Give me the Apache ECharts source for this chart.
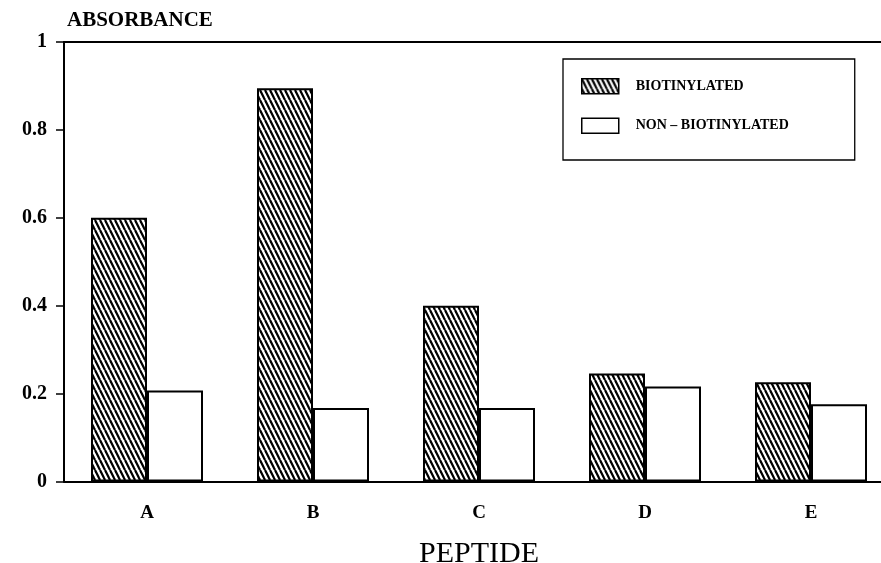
<!DOCTYPE html>
<html>
<head>
<meta charset="utf-8">
<script src="https://cdn.jsdelivr.net/npm/echarts@6/dist/echarts.min.js"></script>
<style>html,body{margin:0;padding:0;background:#fff}#c{width:881px;height:563px}</style>
</head>
<body>
<div id="c"></div>
<script>
const categories = ['A', 'B', 'C', 'D', 'E'];
const biotinylated = [0.60, 0.895, 0.40, 0.246, 0.226];
const nonBiotinylated = [0.207, 0.167, 0.167, 0.216, 0.176];
const yTicks = [0, 0.2, 0.4, 0.6, 0.8, 1];
const seriesNames = ['BIOTINYLATED', 'NON – BIOTINYLATED'];

function hatch() {
  const c = document.createElement('canvas');
  c.width = 5; c.height = 10;
  const g = c.getContext('2d');
  g.fillStyle = '#fff'; g.fillRect(0, 0, 5, 10);
  g.strokeStyle = '#000'; g.lineWidth = 2.2;
  for (const x0 of [-5, 0, 5]) {
    g.beginPath(); g.moveTo(x0, 0); g.lineTo(x0 + 5, 10); g.stroke();
  }
  return c;
}
const hatchFill = { image: hatch(), repeat: 'repeat' };
const serif = '"Liberation Serif", "DejaVu Serif", serif';

const chart = echarts.init(document.getElementById('c'), null, { renderer: 'canvas' });
chart.setOption({
  animation: false,
  backgroundColor: '#fff',
  grid: { left: 64, top: 42, width: 830, height: 439.5, outerBoundsMode: 'none', containLabel: false },
  legend: {
    orient: 'vertical', left: 563, top: 59,
    borderColor: '#000', borderWidth: 1.3,
    padding: [19, 66, 26, 18],
    itemWidth: 37, itemHeight: 15, itemGap: 23,
    icon: 'rect',
    textStyle: { fontFamily: serif, fontWeight: 'bold', fontSize: 14, color: '#000', padding: [0, 0, 0, 12] },
    data: [
      { name: seriesNames[0], itemStyle: { color: hatchFill, borderColor: '#000', borderWidth: 1.5 } },
      { name: seriesNames[1], itemStyle: { color: '#fff', borderColor: '#000', borderWidth: 1.5 } }
    ]
  },
  xAxis: [{
    type: 'category', data: categories,
    name: 'PEPTIDE', nameLocation: 'middle', nameGap: 58,
    nameTextStyle: { fontFamily: serif, fontSize: 30, color: '#000' },
    axisLine: { lineStyle: { color: '#000', width: 2 } },
    axisTick: { alignWithLabel: true, length: 8, lineStyle: { color: '#000', width: 1.5 } },
    axisLabel: { fontFamily: serif, fontWeight: 'bold', fontSize: 19, color: '#000', margin: 22 }
  }, {
    type: 'category', data: categories, position: 'top',
    axisLine: { lineStyle: { color: '#000', width: 2 } },
    axisTick: { show: false }, axisLabel: { show: false }
  }],
  yAxis: {
    type: 'value', min: 0, max: 1, interval: 0.2,
    name: 'ABSORBANCE', nameLocation: 'end', nameGap: 11,
    nameTextStyle: { fontFamily: serif, fontWeight: 'bold', fontSize: 21, color: '#000', align: 'left', verticalAlign: 'bottom', padding: [0, 0, 0, 3] },
    axisLine: { show: true, lineStyle: { color: '#000', width: 2 } },
    axisTick: { show: true, length: 8, lineStyle: { color: '#000', width: 1.5 } },
    splitLine: { show: false },
    axisLabel: {
      fontFamily: serif, fontWeight: 'bold', fontSize: 20, color: '#000', margin: 17,
      formatter: v => { const t = yTicks.find(x => Math.abs(x - v) < 1e-9); return t === undefined ? '' : String(t); }
    }
  },
  series: [{
    name: seriesNames[0], type: 'bar', data: biotinylated,
    barWidth: 56, barGap: '0%',
    itemStyle: { color: hatchFill, borderColor: '#000', borderWidth: 2 }
  }, {
    name: seriesNames[1], type: 'bar', data: nonBiotinylated,
    barWidth: 56, barGap: '0%',
    itemStyle: { color: '#fff', borderColor: '#000', borderWidth: 2 }
  }]
});
</script>
</body>
</html>
